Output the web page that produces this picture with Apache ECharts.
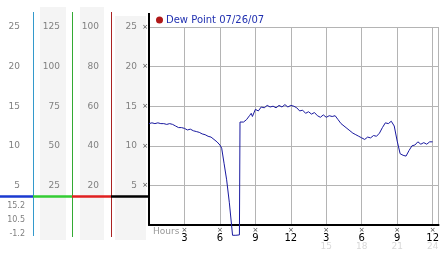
<!DOCTYPE html>
<html><head><meta charset="utf-8">
<script src="https://cdn.jsdelivr.net/npm/echarts@6/dist/echarts.min.js"></script>
<style>html,body{margin:0;padding:0;background:#fff}#c{width:442px;height:253px}</style>
</head><body><div id="c"></div>
<script>
var seriesName = 'Dew Point 07/26/07';
var hours = [0,0.25,0.5,0.75,1,1.25,1.5,1.75,2,2.25,2.5,2.75,3,3.25,3.5,3.75,4,4.25,4.5,4.75,5,5.25,5.5,5.75,6,6.15,6.35,6.57,6.8,7.07,7.35,7.65,7.7,7.85,8,8.25,8.5,8.65,8.75,9,9.25,9.5,9.75,10,10.25,10.5,10.75,11,11.25,11.5,11.75,12,12.25,12.5,12.75,13,13.25,13.5,13.75,14,14.25,14.5,14.75,15,15.25,15.5,15.75,16,16.25,16.5,16.75,17,17.25,17.5,17.75,18,18.25,18.5,18.75,19,19.25,19.5,19.75,20,20.25,20.5,20.75,21,21.25,21.5,21.75,22,22.25,22.5,22.75,23,23.25,23.5,23.75,24];
var dewPoint = [12.8,12.9,12.8,12.9,12.8,12.8,12.7,12.8,12.7,12.5,12.3,12.3,12.2,12.0,12.1,11.9,11.8,11.7,11.5,11.4,11.2,11.1,10.8,10.5,10.1,9.7,7.8,5.7,2.8,-1.3,-1.3,-1.25,13.0,13.2,13.0,13.3,13.8,14.1,13.7,14.6,14.4,14.9,14.8,15.1,14.9,15.0,14.8,15.1,14.9,15.2,14.9,15.1,15.0,14.8,14.4,14.5,14.1,14.3,14.0,14.2,13.8,13.6,13.9,13.6,13.8,13.7,13.8,13.3,12.8,12.5,12.2,11.9,11.6,11.4,11.2,11.0,10.8,11.1,11.0,11.3,11.2,11.6,12.3,12.9,12.8,13.1,12.5,10.6,9.0,8.8,8.7,9.4,10.0,10.1,10.5,10.2,10.4,10.2,10.5,10.5];
var col1Ticks = {min:0,max:25,interval:5};
var col2Ticks = {min:0,max:125,interval:25};
var col3Ticks = {min:0,max:100,interval:20};
var statLabels = ['15.2','10.5','-1.2'];
var xLabelsFirst = {3:'3',6:'6',9:'9',12:'12',15:'3',18:'6',21:'9',24:'12'};
var xLabelsSecond = {15:'15',18:'18',21:'21',24:'24'};

var F = 'DejaVu Sans, Verdana, sans-serif';
var chart = echarts.init(document.getElementById('c'), null, {renderer:'canvas'});
function sideAxis(t, offset){
  return {type:'value', position:'left', min:t.min, max:t.max, interval:t.interval, offset:offset,
    axisLine:{show:false}, axisTick:{show:false}, splitLine:{show:false},
    axisLabel:{showMinLabel:false, margin:12, color:'#808080', fontSize:9, fontFamily:F}};
}
var option = {
  animation:false,
  backgroundColor:'#fff',
  grid:{left:149, top:27, right:-2, bottom:28},
  legend:{data:[{name:seriesName, icon:'circle', itemStyle:{color:'#b01818'}}], left:156, top:15,
    itemWidth:7, itemHeight:7, itemGap:4, padding:0,
    textStyle:{color:'#2030b0', fontSize:10, fontFamily:F, padding:[0,0,0,-2]}},
  xAxis:[{type:'value', min:0, max:24.5, interval:3,
    axisLine:{show:true, onZero:true, lineStyle:{color:'#000', width:2}},
    axisTick:{show:false},
    splitLine:{show:true, lineStyle:{color:'#b4b4b4', width:1}},
    axisLabel:{margin:2, showMinLabel:false, showMaxLabel:false,
      formatter:function(v){var s=xLabelsFirst[v]; return s?('{m|×}\n{n|'+s+'}'):'';},
      rich:{m:{fontSize:7, lineHeight:6, color:'#444', fontFamily:F, align:'center'},
            n:{fontSize:10, lineHeight:10, color:'#000', fontFamily:F, align:'center'}}}},
   {type:'value', position:'bottom', min:0, max:24.5, interval:3, offset:15,
    axisLine:{show:false, onZero:false}, axisTick:{show:false}, splitLine:{show:false},
    axisLabel:{margin:2, showMinLabel:false, showMaxLabel:false, color:'#d8d8d8', fontSize:9, fontFamily:F,
      formatter:function(v){return xLabelsSecond[v]||'';}}}],
  yAxis:[{type:'value', min:col1Ticks.min, max:col1Ticks.max, interval:col1Ticks.interval,
    axisLine:{show:true, lineStyle:{color:'#000', width:2}},
    axisTick:{show:false},
    splitLine:{show:true, lineStyle:{color:'#b4b4b4', width:1}},
    axisLabel:{showMinLabel:false, margin:1, color:'#444', fontSize:7, fontFamily:F, formatter:function(){return '×';}}},
    sideAxis(col1Ticks, 0), sideAxis(col3Ticks, 38), sideAxis(col2Ticks, 77), sideAxis(col1Ticks, 117)],
  series:[{name:seriesName, type:'line', data:hours.map(function(h,i){return [h, dewPoint[i]];}),
    showSymbol:false, clip:false, lineStyle:{color:'#1a1aa0', width:1}, itemStyle:{color:'#1a1aa0'}}],
  graphic:[
    {type:'rect', shape:{x:40,y:7,width:26,height:233}, style:{fill:'#f4f4f4'}, z:-10},
    {type:'rect', shape:{x:80,y:7,width:24,height:233}, style:{fill:'#f4f4f4'}, z:-10},
    {type:'rect', shape:{x:115,y:16,width:31,height:224}, style:{fill:'#f4f4f4'}, z:-10},
    {type:'line', shape:{x1:33.5,y1:12,x2:33.5,y2:236}, style:{stroke:'#3399cc', lineWidth:1}},
    {type:'line', shape:{x1:72.5,y1:12,x2:72.5,y2:237}, style:{stroke:'#33aa33', lineWidth:1}},
    {type:'line', shape:{x1:111.5,y1:12,x2:111.5,y2:237}, style:{stroke:'#aa2222', lineWidth:1}},
    {type:'line', shape:{x1:149,y1:13,x2:149,y2:28}, style:{stroke:'#000', lineWidth:2}},
    {type:'line', shape:{x1:0,y1:196.5,x2:33,y2:196.5}, style:{stroke:'#1a3ad0', lineWidth:2.5}},
    {type:'line', shape:{x1:33,y1:196.5,x2:72,y2:196.5}, style:{stroke:'#33cc33', lineWidth:2.5}},
    {type:'line', shape:{x1:72,y1:196.5,x2:111,y2:196.5}, style:{stroke:'#e02020', lineWidth:2.5}},
    {type:'line', shape:{x1:111,y1:196.5,x2:149,y2:196.5}, style:{stroke:'#000', lineWidth:2.5}},
    {type:'text', style:{text:statLabels[0], x:25, y:205.5, align:'right', verticalAlign:'middle', fill:'#808080', font:'8px '+F}},
    {type:'text', style:{text:statLabels[1], x:25, y:219.5, align:'right', verticalAlign:'middle', fill:'#808080', font:'8px '+F}},
    {type:'text', style:{text:statLabels[2], x:25, y:233.5, align:'right', verticalAlign:'middle', fill:'#808080', font:'8px '+F}},
    {type:'text', style:{text:'Hours', x:153, y:232, align:'left', verticalAlign:'middle', fill:'#999', font:'9px '+F}}
  ]
};
chart.setOption(option);
</script></body></html>
